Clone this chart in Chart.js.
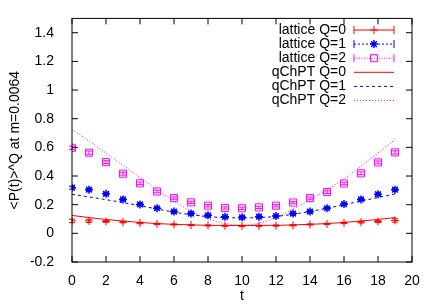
<!DOCTYPE html>
<html>
<head>
<meta charset="utf-8">
<script src="https://cdn.jsdelivr.net/npm/chart.js@4"></script>
<style>
  html, body { margin: 0; padding: 0; background: #fff; }
  #wrap { width: 436px; height: 305px; }
</style>
</head>
<body>
<div id="wrap"><canvas id="chart" width="436" height="305"></canvas></div>
<script>
// time slices
const times = [0, 1, 2, 3, 4, 5, 6, 7, 8, 9, 10, 11, 12, 13, 14, 15, 16, 17, 18, 19];

// lattice data with errors
const latticeQ0 = [0.087, 0.087, 0.083, 0.078, 0.072, 0.066, 0.062, 0.058, 0.055, 0.053, 0.052, 0.053, 0.054, 0.056, 0.062, 0.066, 0.073, 0.078, 0.083, 0.090];
const errQ0 = [0.012, 0.011, 0.006, 0.005, 0.005, 0.004, 0.004, 0.004, 0.004, 0.004, 0.004, 0.004, 0.004, 0.004, 0.004, 0.004, 0.005, 0.006, 0.008, 0.012];
const latticeQ1 = [0.319, 0.305, 0.276, 0.237, 0.202, 0.175, 0.152, 0.138, 0.126, 0.115, 0.112, 0.116, 0.121, 0.138, 0.152, 0.175, 0.204, 0.237, 0.273, 0.305];
const errQ1 = [0.010, 0.009, 0.008, 0.007, 0.007, 0.006, 0.006, 0.006, 0.006, 0.006, 0.006, 0.006, 0.006, 0.006, 0.006, 0.006, 0.007, 0.007, 0.008, 0.009];
const latticeQ2 = [0.597, 0.563, 0.497, 0.416, 0.349, 0.292, 0.246, 0.216, 0.193, 0.177, 0.175, 0.181, 0.193, 0.215, 0.246, 0.288, 0.348, 0.419, 0.495, 0.565];
const errQ2 = [0.012, 0.011, 0.010, 0.010, 0.009, 0.009, 0.008, 0.008, 0.008, 0.008, 0.008, 0.008, 0.008, 0.008, 0.008, 0.009, 0.009, 0.010, 0.010, 0.011];

// qChPT curves
const chptQ0 = [0.125, 0.110, 0.097, 0.086, 0.076, 0.068, 0.063, 0.059, 0.056, 0.055, 0.055, 0.055, 0.056, 0.059, 0.063, 0.068, 0.076, 0.086, 0.097, 0.110];
const chptQ1 = [0.273, 0.254, 0.235, 0.215, 0.193, 0.170, 0.148, 0.130, 0.117, 0.110, 0.108, 0.110, 0.118, 0.133, 0.153, 0.175, 0.200, 0.225, 0.250, 0.275];
const chptQ2 = [0.724, 0.645, 0.560, 0.475, 0.390, 0.305, 0.225, 0.155, 0.103, 0.069, 0.057, 0.070, 0.110, 0.168, 0.235, 0.305, 0.380, 0.470, 0.560, 0.655];

// axis ticks
const xTicks = [0, 2, 4, 6, 8, 10, 12, 14, 16, 18, 20];
const yTicks = [-0.2, 0, 0.2, 0.4, 0.6, 0.8, 1, 1.2, 1.4];

const RED = 'rgb(255,0,0)';
const BLUE = 'rgb(0,0,255)';
const MAG = 'rgb(255,0,255)';
const FONT = { family: '"Liberation Sans", Arial, sans-serif', size: 14 };

function pts(arr) {
    return times.map((t, i) => ({ x: t, y: arr[i] }));
}

const errorSets = { 0: errQ0, 1: errQ1, 2: errQ2 };

const legendRows = [
    { label: 'lattice Q=0', color: RED, dash: [], style: 'cross', r: 4, caps: true },
    { label: 'lattice Q=1', color: BLUE, dash: [2, 2], style: 'star', r: 4, caps: true },
    { label: 'lattice Q=2', color: MAG, dash: [1, 1.5], style: 'rect', r: 5, caps: true },
    { label: 'qChPT Q=0', color: RED, dash: [] },
    { label: 'qChPT Q=1', color: BLUE, dash: [3, 3] },
    { label: 'qChPT Q=2', color: MAG, dash: [1, 2] }
];

const framePlugin = {
    id: 'frame',
    afterDatasetsDraw(chart) {
        const ctx = chart.ctx;
        const ys = chart.scales.y;
        ctx.save();
        ctx.lineWidth = 1;
        Object.keys(errorSets).forEach(di => {
            const meta = chart.getDatasetMeta(+di);
            const ds = chart.data.datasets[di];
            const errs = errorSets[di];
            ctx.strokeStyle = ds.borderColor;
            meta.data.forEach((pt, i) => {
                const v = ds.data[i].y;
                const y1 = ys.getPixelForValue(v - errs[i]);
                const y2 = ys.getPixelForValue(v + errs[i]);
                ctx.beginPath();
                ctx.moveTo(pt.x, y1); ctx.lineTo(pt.x, y2);
                ctx.moveTo(pt.x - 3, y1); ctx.lineTo(pt.x + 3, y1);
                ctx.moveTo(pt.x - 3, y2); ctx.lineTo(pt.x + 3, y2);
                ctx.stroke();
            });
        });
        ctx.restore();
    },
    afterDraw(chart) {
        const ctx = chart.ctx;
        const a = chart.chartArea;
        const xs = chart.scales.x, ys = chart.scales.y;
        ctx.save();
        ctx.strokeStyle = '#000';
        ctx.lineWidth = 1;
        ctx.strokeRect(a.left, a.top, a.right - a.left, a.bottom - a.top);
        ctx.beginPath();
        const tl = 6;
        xTicks.forEach(v => {
            const x = xs.getPixelForValue(v);
            ctx.moveTo(x, a.bottom); ctx.lineTo(x, a.bottom - tl);
            ctx.moveTo(x, a.top); ctx.lineTo(x, a.top + tl);
        });
        yTicks.forEach(v => {
            const y = ys.getPixelForValue(v);
            ctx.moveTo(a.left, y); ctx.lineTo(a.left + tl, y);
            ctx.moveTo(a.right, y); ctx.lineTo(a.right - tl, y);
        });
        ctx.stroke();

        // legend, top right inside the frame
        const textRight = 346, x1 = 354, x2 = 394, xm = 374;
        ctx.font = FONT.size + 'px ' + FONT.family;
        ctx.textAlign = 'right';
        ctx.textBaseline = 'middle';
        legendRows.forEach((row, i) => {
            const y = 30 + i * 14.1;
            ctx.fillStyle = '#000';
            ctx.fillText(row.label, textRight, y);
            ctx.strokeStyle = row.color;
            ctx.lineWidth = 1;
            ctx.setLineDash(row.dash);
            ctx.beginPath();
            ctx.moveTo(x1, y); ctx.lineTo(x2, y);
            ctx.stroke();
            ctx.setLineDash([]);
            if (row.caps) {
                ctx.beginPath();
                ctx.moveTo(x1, y - 4); ctx.lineTo(x1, y + 4);
                ctx.moveTo(x2, y - 4); ctx.lineTo(x2, y + 4);
                ctx.stroke();
                ctx.fillStyle = 'rgba(0,0,0,0)';
                ctx.lineWidth = row.style === 'star' ? 1.5 : 1;
                Chart.helpers.drawPoint(ctx, { pointStyle: row.style, radius: row.r, borderWidth: ctx.lineWidth, rotation: 0 }, xm, y);
            }
        });
        ctx.restore();
    }
};

const ctx = document.getElementById('chart').getContext('2d');
const chart = new Chart(ctx, {
    type: 'scatter',
    data: {
        datasets: [
            { label: 'lattice Q=0', data: pts(latticeQ0), borderColor: RED, backgroundColor: 'transparent', pointStyle: 'cross', pointRadius: 4, borderWidth: 1, showLine: false },
            { label: 'lattice Q=1', data: pts(latticeQ1), borderColor: BLUE, backgroundColor: 'transparent', pointStyle: 'star', pointRadius: 4, borderWidth: 1.5, showLine: false },
            { label: 'lattice Q=2', data: pts(latticeQ2), borderColor: MAG, backgroundColor: 'transparent', pointStyle: 'rect', pointRadius: 5, borderWidth: 1, showLine: false },
            { label: 'qChPT Q=0', data: pts(chptQ0), borderColor: RED, borderWidth: 1, pointRadius: 0, showLine: true, cubicInterpolationMode: 'monotone' },
            { label: 'qChPT Q=1', data: pts(chptQ1), borderColor: BLUE, borderWidth: 1, borderDash: [3, 3], pointRadius: 0, showLine: true, cubicInterpolationMode: 'monotone' },
            { label: 'qChPT Q=2', data: pts(chptQ2), borderColor: MAG, borderWidth: 1, borderDash: [1, 2], pointRadius: 0, showLine: true, cubicInterpolationMode: 'monotone' }
        ]
    },
    options: {
        responsive: false,
        animation: false,
        devicePixelRatio: 1,
        layout: { padding: { top: 16, right: 24, left: 0, bottom: 0 } },
        plugins: {
            legend: { display: false },
            tooltip: { enabled: false }
        },
        scales: {
            x: {
                type: 'linear',
                min: 0,
                max: 20,
                grid: { display: false },
                border: { display: false },
                ticks: { color: '#000', font: FONT, padding: 3, maxRotation: 0, autoSkip: false },
                title: { display: true, text: 't', color: '#000', font: FONT, padding: { top: 0, bottom: 0 } },
                afterBuildTicks: s => { s.ticks = xTicks.map(v => ({ value: v })); },
                afterFit: s => { s.height = 43; }
            },
            y: {
                type: 'linear',
                min: -0.2,
                max: 1.5,
                grid: { display: false },
                border: { display: false },
                ticks: {
                    color: '#000', font: FONT, padding: 10,
                    callback: v => String(Number(v.toFixed(1)))
                },
                title: { display: true, text: '<P(t)>^Q at m=0.0064', color: '#000', font: FONT, padding: { top: 7, bottom: 0 } },
                afterBuildTicks: s => { s.ticks = yTicks.map(v => ({ value: v })); },
                afterFit: s => { s.width = 72; }
            }
        }
    },
    plugins: [framePlugin]
});
</script>
</body>
</html>
